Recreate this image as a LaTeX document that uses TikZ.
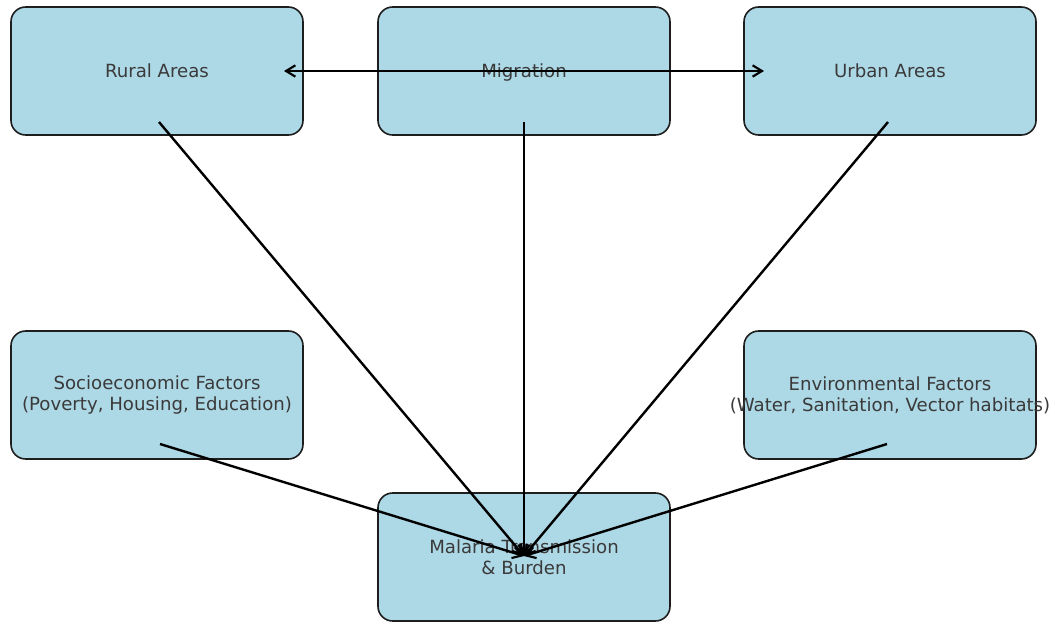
\documentclass[tikz,border=0pt]{standalone}
\usepackage{fontspec}
\setmainfont{DejaVu Sans}
\usetikzlibrary{arrows.meta,calc}
\definecolor{boxfill}{HTML}{ADD8E6}
\definecolor{boxedge}{HTML}{1E1E1E}
\definecolor{labeltext}{HTML}{3A3A3A}
\tikzset{
  factorbox/.style={draw=boxedge, line width=1.2pt, fill=boxfill,
    rounded corners=11pt, minimum width=219pt, minimum height=96pt,
    inner sep=0pt, align=center, text=labeltext,
    font=\fontsize{13.6pt}{15.8pt}\selectfont},
  barb/.tip={Straight Barb[length=7pt,width=8.5pt,line width=1.6pt]},
  link/.style={draw=black, line width=1.8pt, -barb},
  twoway/.style={draw=black, line width=1.8pt, barb-barb}
}
\begin{document}
\begin{tikzpicture}[x=0.75pt,y=-0.75pt]
  \useasboundingbox (0,0) rectangle (1055,624);

  % boxes
  \node[factorbox] (rural)   at (157,71)  {Rural Areas};
  \node[factorbox] (migr)    at (524,71)  {\raisebox{0pt}[\height][0pt]{Migration}};
  \node[factorbox] (urban)   at (890,71)  {Urban Areas};
  \node[factorbox] (socio)   at (157,395) {Socioeconomic Factors\\(Poverty, Housing, Education)};
  \node[factorbox] (env)     at (890,395) {Environmental Factors\\\makebox[0pt]{(Water, Sanitation, Vector habitats)}};
  \node[factorbox] (malaria) at (524,557) {Malaria Transmission\\\& Burden};

  % arrow anchor points inside the boxes
  \coordinate (rural-e) at ($(rural.center)+(127,0)$);
  \coordinate (urban-w) at ($(urban.center)+(-126,0)$);
  \coordinate (rural-s) at ($(rural.center)+(2,51)$);
  \coordinate (migr-s)  at ($(migr.center)+(0,51)$);
  \coordinate (urban-s) at ($(urban.center)+(-2,51)$);
  \coordinate (socio-s) at ($(socio.center)+(3,49)$);
  \coordinate (env-s)   at ($(env.center)+(-3,49)$);
  \coordinate (target)  at ($(malaria.center)+(0,-1)$);

  % connectors
  \draw[twoway] (rural-e) -- (urban-w);
  \draw[link] (rural-s) -- (target);
  \draw[link] (migr-s)  -- (target);
  \draw[link] (urban-s) -- (target);
  \draw[link] (socio-s) -- (target);
  \draw[link] (env-s)   -- (target);
\end{tikzpicture}
\end{document}
